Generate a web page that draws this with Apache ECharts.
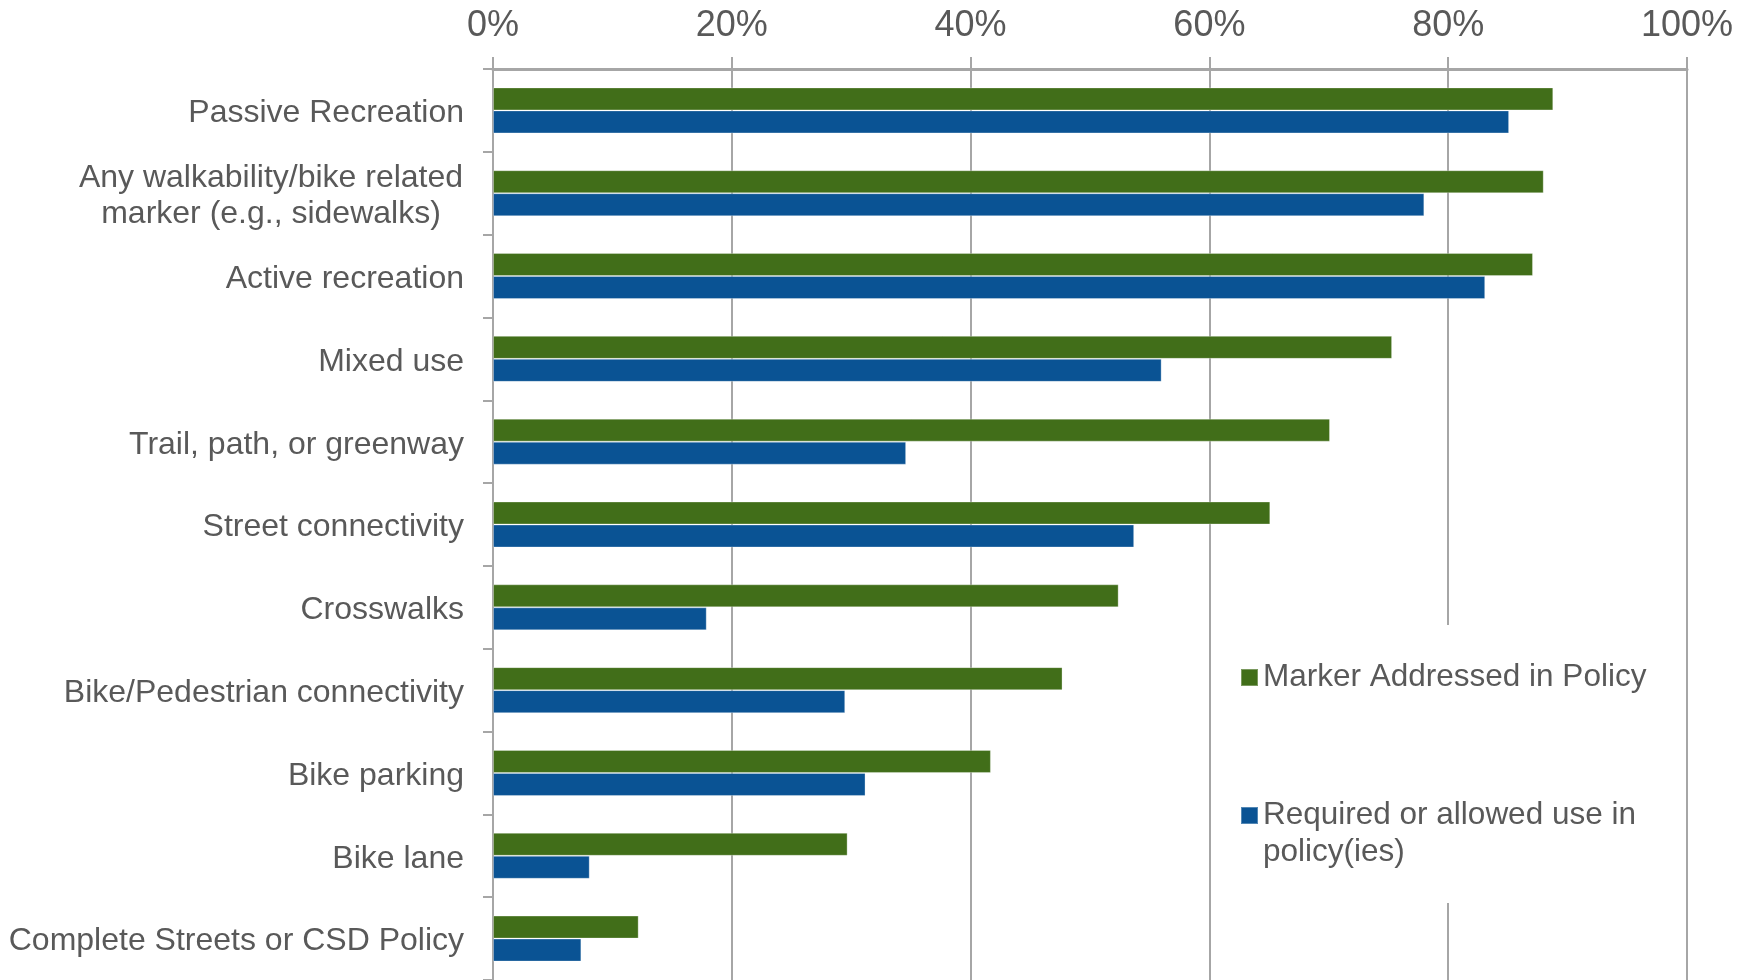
<!DOCTYPE html>
<html>
<head>
<meta charset="utf-8">
<script src="https://cdn.jsdelivr.net/npm/echarts@6/dist/echarts.min.js"></script>
<style>
  html, body { margin: 0; padding: 0; background: #fff; }
  #chart { width: 1755px; height: 980px; }
</style>
</head>
<body>
<div id="chart"></div>
<script>
// 类目（从上到下）
const categories = [
  'Passive Recreation',
  'Any walkability/bike related\nmarker (e.g., sidewalks)',
  'Active recreation',
  'Mixed use',
  'Trail, path, or greenway',
  'Street connectivity',
  'Crosswalks',
  'Bike/Pedestrian connectivity',
  'Bike parking',
  'Bike lane',
  'Complete Streets or CSD Policy'
]
// 政策中涉及的指标 (%)
const addressedValues = [88.8, 88.0, 87.1, 75.3, 70.1, 65.1, 52.4, 47.7, 41.7, 29.7, 12.2]
// 政策中要求或允许使用 (%)
const requiredValues = [85.1, 78.0, 83.1, 56.0, 34.6, 53.7, 17.9, 29.5, 31.2, 8.1, 7.4]
const xTicks = [0, 20, 40, 60, 80, 100]

const seriesNames = ['Marker Addressed in Policy', 'Required or allowed use in policy(ies)']
const TEXT = '#595959'
const GRID_LINE = '#a6a6a6'
const FONT = '"Liberation Sans", Arial, sans-serif'

let chart = echarts.init(document.getElementById('chart'))

let option = {
  animation: false,
  textStyle: { fontFamily: FONT },
  grid: { left: 493, right: 68, top: 69, bottom: 0 },
  xAxis: {
    type: 'value',
    position: 'top',
    min: xTicks[0],
    max: xTicks[xTicks.length - 1],
    interval: xTicks[1] - xTicks[0],
    axisLine: { show: true, lineStyle: { color: GRID_LINE, width: 3 } },
    axisTick: { show: true, length: 12, lineStyle: { color: GRID_LINE, width: 2 } },
    splitLine: { show: true, lineStyle: { color: GRID_LINE, width: 2 } },
    axisLabel: {
      formatter: '{value}%',
      fontSize: 36,
      color: TEXT,
      fontFamily: FONT,
      margin: 25
    }
  },
  yAxis: {
    type: 'category',
    inverse: true,
    data: categories,
    axisLine: { show: true, lineStyle: { color: GRID_LINE, width: 2 } },
    axisTick: { show: true, length: 10, lineStyle: { color: GRID_LINE, width: 2 } },
    axisLabel: {
      fontSize: 32,
      color: TEXT,
      fontFamily: FONT,
      margin: 29,
      lineHeight: 36,
      padding: [6, 0, 0, 0],
      formatter: (val) => {
        // 两行的标签居中对齐
        if (val.indexOf('\n') < 0) return val
        return val.split('\n').map(s => '{c|' + s + '}').join('\n')
      },
      rich: {
        c: { width: 386, align: 'center', fontSize: 32, color: TEXT, fontFamily: FONT, lineHeight: 36 }
      }
    }
  },
  legend: [
    {
      data: [seriesNames[0]],
      orient: 'vertical',
      left: 1240,
      top: 659,
      padding: 0,
      itemWidth: 17,
      itemHeight: 17,
      icon: 'rect',
      selectedMode: false,
      textStyle: { fontSize: 31.5, color: TEXT, fontFamily: FONT, lineHeight: 37 }
    },
    {
      data: [seriesNames[1]],
      orient: 'vertical',
      left: 1240,
      top: 760,
      padding: 0,
      itemWidth: 17,
      itemHeight: 17,
      icon: 'rect',
      selectedMode: false,
      // 首行为空行，使图例方块与第一行文字对齐
      formatter: () => ' \nRequired or allowed use in\npolicy(ies)',
      textStyle: { fontSize: 31.5, color: TEXT, fontFamily: FONT, lineHeight: 37 }
    }
  ],
  graphic: [
    {
      type: 'rect',
      z: 3,
      shape: { x: 1215, y: 625, width: 440, height: 278 },
      style: { fill: '#fff' }
    }
  ],
  series: [
    {
      name: seriesNames[0],
      type: 'bar',
      data: addressedValues,
      barWidth: 23,
      barGap: '0%',
      itemStyle: { color: '#416e19', borderColor: 'rgba(255,255,255,0.3)', borderWidth: 1 }
    },
    {
      name: seriesNames[1],
      type: 'bar',
      data: requiredValues,
      barWidth: 23,
      barGap: '0%',
      itemStyle: { color: '#0a5394', borderColor: 'rgba(255,255,255,0.3)', borderWidth: 1 }
    }
  ]
}

chart.setOption(option)
</script>
</body>
</html>
